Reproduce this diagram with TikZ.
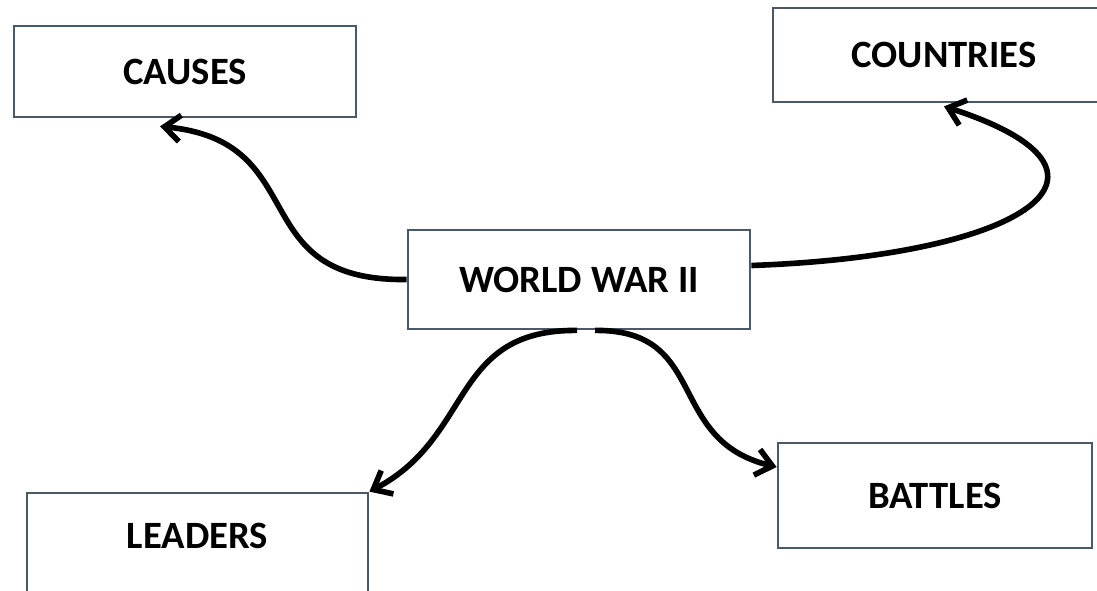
\documentclass[tikz,border=0pt]{standalone}
\usepackage{fontspec}
\setmainfont{Carlito}
\usetikzlibrary{arrows.meta}
\definecolor{boxline}{RGB}{74,88,104}
\begin{document}
\begin{tikzpicture}[
  box/.style={draw=boxline,line width=1.6pt,fill=white,inner sep=0pt,
    font=\fontsize{22}{26}\selectfont\bfseries},
  link/.style={line width=3.2pt,-{Straight Barb[length=9pt,width=15pt]}}]
\useasboundingbox (0,0) rectangle (21.94,-11.8);
\clip (0,0) rectangle (21.94,-11.8);
\fill[white] (0,0) rectangle (21.94,-11.8);
\node[box,minimum width=6.84cm,minimum height=1.82cm] (causes) at (3.70,-1.43) {CAUSES};
\node[box,minimum width=6.84cm,minimum height=1.88cm] (countries) at (18.88,-1.10) {COUNTRIES};
\node[box,minimum width=6.84cm,minimum height=1.98cm] (ww2) at (11.58,-5.59) {WORLD WAR II};
\node[box,minimum width=6.28cm,minimum height=2.10cm] (battles) at (18.70,-9.91) {BATTLES};
\node[box,minimum width=6.82cm,minimum height=2.2cm,text height=0.48cm,text depth=0.48cm] (leaders) at (3.95,-10.96) {LEADERS};
\draw[link] (ww2.west) .. controls +(-3.3,-0.04) and +(3.1,-0.3) .. ([xshift=-5mm,yshift=-1.6mm]causes.south);
\draw[link] ([yshift=2.8mm]ww2.east) .. controls +(5.56,0.2) and +(4.04,-1.3) .. ([yshift=-0.6mm]countries.south);
\draw[link] ([xshift=-0.4mm]ww2.south) .. controls +(-2.54,0.02) and +(2.1,1.1) .. (leaders.north east);
\draw[link] ([xshift=3.2mm]ww2.south) .. controls +(2.3,0.02) and +(-2.24,0.54) .. ([yshift=5.7mm]battles.west);
\end{tikzpicture}
\end{document}
